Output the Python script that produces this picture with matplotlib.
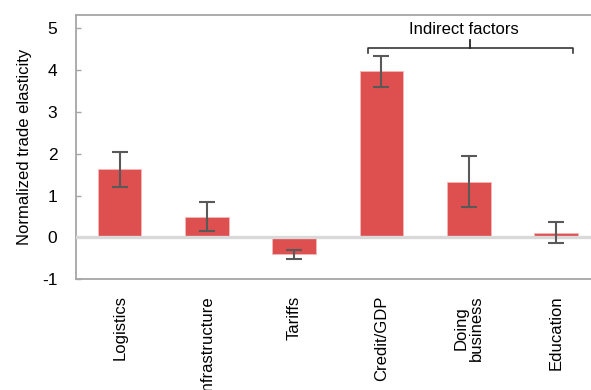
import numpy as np
import matplotlib.pyplot as plt

plt.rcParams['font.family'] = ['Liberation Sans', 'DejaVu Sans']

# 数据
categories = ['Logistics', 'Infrastructure', 'Tariffs', 'Credit/GDP', 'Doing\nbusiness', 'Education']
values = [1.63, 0.49, -0.40, 3.97, 1.33, 0.10]
err_low = [1.20, 0.16, -0.51, 3.60, 0.72, -0.13]
err_high = [2.05, 0.84, -0.29, 4.33, 1.94, 0.36]
yticks = [-1, 0, 1, 2, 3, 4, 5]

x = np.arange(len(categories))
vals = np.array(values)
yerr = [vals - np.array(err_low), np.array(err_high) - vals]

fig = plt.figure(figsize=(5.91, 3.9), dpi=100)
ax = fig.add_axes([0.1286, 0.2838, 0.886, 0.6777])

ax.bar(x, vals, width=0.5, color='#de4f4f', edgecolor='#f2b8b8', linewidth=0.6, zorder=2)
ax.errorbar(x, vals, yerr=yerr, fmt='none', ecolor='#595959', elinewidth=1.5,
            capsize=6, capthick=1.5, zorder=4)
ax.axhline(0, color='#d9d9d9', linewidth=2.4, zorder=3)

ax.set_xlim(-0.5, 5.5)
ax.set_ylim(-1, 5.31)
ax.set_yticks(yticks)
ax.set_yticklabels([str(t) for t in yticks])
ax.set_xticks(x)
ax.set_xticklabels(categories, rotation=90, fontsize=12, linespacing=0.95)
ax.tick_params(axis='x', length=0, pad=11.5)
ax.tick_params(axis='y', direction='in', length=3.6, width=1, color='#a6a6a6',
               labelsize=12.5, pad=13.5)
ax.set_ylabel('Normalized trade elasticity', fontsize=12, labelpad=7)

for s in ['left', 'top', 'bottom']:
    ax.spines[s].set_color('#a6a6a6')
    ax.spines[s].set_linewidth(1.3)
ax.spines['right'].set_visible(False)

# 括号
bx0, bx1, bxm = 2.85, 5.19, 4.02
ax.plot([bx0, bx0, bx1, bx1], [4.40, 4.52, 4.52, 4.40], color='#262626', lw=1.1, clip_on=False)
ax.plot([bxm, bxm], [4.52, 4.72], color='#262626', lw=1.3)
ax.text(3.95, 4.96, 'Indirect factors', ha='center', va='center', fontsize=12)

fig.savefig('out.png', dpi=100)
